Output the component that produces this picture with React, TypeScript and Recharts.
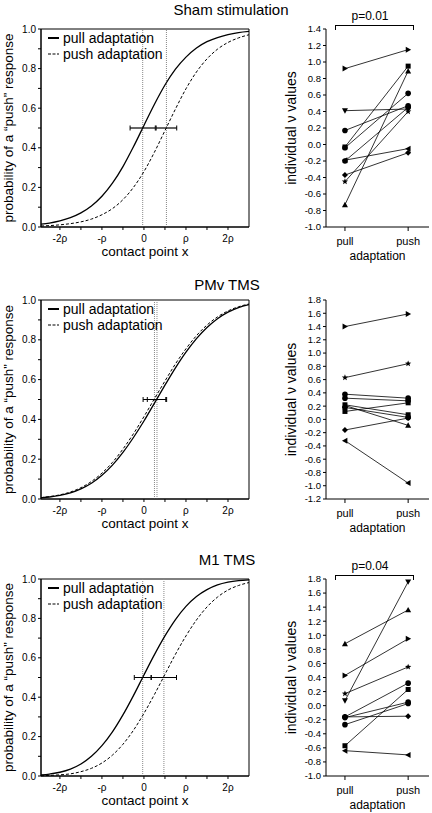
import React from 'react';
import { LineChart, Line, XAxis, YAxis, ReferenceLine, ReferenceArea, Legend, Label } from 'recharts';

const FONT = '"Liberation Sans", Arial, Helvetica, sans-serif';

// contact point x, in units of rho
const xGrid = [-2.45, -2.25, -2, -1.75, -1.5, -1.25, -1, -0.75, -0.5, -0.25, 0, 0.25, 0.5, 0.75, 1, 1.25, 1.5, 1.75, 2, 2.25, 2.5];

// psychometric curves
const shamPullCurve = [0.014, 0.02, 0.031, 0.047, 0.071, 0.106, 0.155, 0.221, 0.305, 0.405, 0.513, 0.62, 0.717, 0.797, 0.858, 0.904, 0.936, 0.957, 0.972, 0.982, 0.988];
const shamPushCurve = [0.005, 0.007, 0.011, 0.017, 0.026, 0.04, 0.062, 0.093, 0.138, 0.2, 0.28, 0.378, 0.487, 0.596, 0.698, 0.783, 0.849, 0.898, 0.932, 0.955, 0.971];
const pmvPullCurve = [0.006, 0.01, 0.018, 0.031, 0.051, 0.079, 0.119, 0.17, 0.234, 0.309, 0.392, 0.482, 0.572, 0.659, 0.738, 0.806, 0.862, 0.906, 0.939, 0.962, 0.977];
const pmvPushCurve = [0.007, 0.012, 0.021, 0.035, 0.057, 0.088, 0.13, 0.184, 0.251, 0.328, 0.414, 0.504, 0.593, 0.679, 0.755, 0.821, 0.874, 0.915, 0.945, 0.966, 0.98];
const m1PullCurve = [0.005, 0.01, 0.019, 0.035, 0.061, 0.1, 0.154, 0.224, 0.31, 0.408, 0.513, 0.616, 0.711, 0.794, 0.861, 0.911, 0.946, 0.97, 0.984, 0.992, 0.996];
const m1PushCurve = [0.001, 0.003, 0.006, 0.011, 0.022, 0.039, 0.066, 0.106, 0.161, 0.232, 0.318, 0.414, 0.516, 0.618, 0.711, 0.792, 0.858, 0.908, 0.944, 0.967, 0.982];

// 50% points [pull, push] and the half width of their error bars
const shamPSE = [-0.03, 0.535];
const shamPSEErr = [0.3, 0.245];
const pmvPSE = [0.31, 0.25];
const pmvPSEErr = [0.23, 0.27];
const m1PSE = [-0.03, 0.475];
const m1PSEErr = [0.2, 0.3];

const xTicks = [-2, -1.5, -1, -0.5, 0, 0.5, 1, 1.5, 2];
const xTickLabels: Record<string, string> = { '-2': '-2ρ', '-1': '-ρ', '0': '0', '1': 'ρ', '2': '2ρ' };
const probTicks = [0, 0.1, 0.2, 0.3, 0.4, 0.5, 0.6, 0.7, 0.8, 0.9, 1];

// individual nu values, pull -> push
const shamPull = [0.92, 0.41, 0.17, -0.03, -0.04, -0.2, -0.19, -0.37, -0.45, -0.73];
const shamPush = [1.15, 0.43, 0.47, 0.95, 0.62, 0.45, -0.05, -0.1, 0.4, 0.89];
const shamMarks = ['right', 'down', 'circle', 'square', 'circle', 'circle', 'left', 'diamond', 'star', 'up'];

const pmvPull = [1.4, 0.63, 0.38, 0.32, 0.22, 0.21, 0.18, 0.12, -0.16, -0.32];
const pmvPush = [1.59, 0.84, 0.32, 0.28, 0.07, -0.09, 0.03, 0.25, 0.02, -0.96];
const pmvMarks = ['right', 'star', 'circle', 'circle', 'square', 'up', 'circle', 'square', 'diamond', 'left'];

const m1Pull = [0.88, 0.43, 0.17, 0.07, -0.16, -0.17, -0.16, -0.27, -0.57, -0.64];
const m1Push = [1.36, 0.95, 0.55, 1.76, 0.32, 0.05, -0.15, 0.03, 0.23, -0.7];
const m1Marks = ['up', 'right', 'star', 'down', 'circle', 'circle', 'diamond', 'circle', 'square', 'left'];

const shamTicks = [-1, -0.8, -0.6, -0.4, -0.2, 0, 0.2, 0.4, 0.6, 0.8, 1, 1.2, 1.4];
const pmvTicks = [-1.2, -1, -0.8, -0.6, -0.4, -0.2, 0, 0.2, 0.4, 0.6, 0.8, 1, 1.2, 1.4, 1.6, 1.8];
const m1Ticks = [-1, -0.8, -0.6, -0.4, -0.2, 0, 0.2, 0.4, 0.6, 0.8, 1, 1.2, 1.4, 1.6, 1.8];
const conditionLabels = ['pull', 'push'];

const Marker = ({ cx, cy, kind }: { cx?: number; cy?: number; kind: string }) => {
  if (cx == null || cy == null) return null;
  const s = 3;
  switch (kind) {
    case 'up':
      return <polygon points={`${cx},${cy - s} ${cx + s},${cy + s * 0.8} ${cx - s},${cy + s * 0.8}`} fill="#000" />;
    case 'down':
      return <polygon points={`${cx},${cy + s} ${cx + s},${cy - s * 0.8} ${cx - s},${cy - s * 0.8}`} fill="#000" />;
    case 'right':
      return <polygon points={`${cx + s},${cy} ${cx - s * 0.8},${cy - s} ${cx - s * 0.8},${cy + s}`} fill="#000" />;
    case 'left':
      return <polygon points={`${cx - s},${cy} ${cx + s * 0.8},${cy - s} ${cx + s * 0.8},${cy + s}`} fill="#000" />;
    case 'square':
      return <rect x={cx - 2.5} y={cy - 2.5} width={5} height={5} fill="#000" />;
    case 'diamond':
      return <polygon points={`${cx},${cy - s} ${cx + s},${cy} ${cx},${cy + s} ${cx - s},${cy}`} fill="#000" />;
    case 'star': {
      const pts: string[] = [];
      for (let k = 0; k < 10; k++) {
        const r = k % 2 === 0 ? 3.3 : 1.4;
        const a = -Math.PI / 2 + (k * Math.PI) / 5;
        pts.push(`${cx + r * Math.cos(a)},${cy + r * Math.sin(a)}`);
      }
      return <polygon points={pts.join(' ')} fill="#000" />;
    }
    default:
      return <circle cx={cx} cy={cy} r={2.8} fill="#000" />;
  }
};

const Cap = (props: any) => {
  const { cx, cy } = props;
  if (cx == null || cy == null) return null;
  return <line x1={cx} x2={cx} y1={cy - 2.5} y2={cy + 2.5} stroke="#000" strokeWidth={1} />;
};

const CurveLegend = () => (
  <div style={{ fontSize: 14, lineHeight: '16px', color: '#000', whiteSpace: 'nowrap' }}>
    <div style={{ display: 'flex', alignItems: 'center' }}>
      <svg width={15} height={8}><line x1={0} x2={11} y1={4} y2={4} stroke="#000" strokeWidth={2} /></svg>
      <span>pull adaptation</span>
    </div>
    <div style={{ display: 'flex', alignItems: 'center' }}>
      <svg width={15} height={8}><line x1={0} x2={11} y1={4} y2={4} stroke="#000" strokeWidth={1.2} strokeDasharray="3 1.5" /></svg>
      <span>push adaptation</span>
    </div>
  </div>
);

interface CurvePanelProps {
  top: number;
  plotHeight: number;
  pull: number[];
  push: number[];
  pse: number[];
  err: number[];
}

const CurvePanel = ({ top, plotHeight, pull, push, pse, err }: CurvePanelProps) => {
  const data = xGrid.map((x, i) => ({ x, pull: pull[i], push: push[i] }));
  const bars = pse.map((c, i) => [
    { x: c - err[i], y: 0.5 },
    { x: c + err[i], y: 0.5 },
  ]);
  return (
    <div style={{ position: 'absolute', left: 0, top }}>
      <LineChart width={280} height={29 + plotHeight + 36} data={data} margin={{ top: 29, right: 31, bottom: 0, left: 0 }}>
        <XAxis
          type="number"
          dataKey="x"
          domain={[-2.45, 2.5]}
          ticks={xTicks}
          interval={0}
          allowDataOverflow
          tickFormatter={(v: number) => xTickLabels[String(v)] ?? ''}
          height={36}
          stroke="#000"
          tickSize={3}
          tickMargin={5}
          tick={{ fontSize: 10, fill: '#000' }}
        >
          <Label value="contact point x" position="insideBottom" offset={7} style={{ fontSize: 13.5, fill: '#000' }} />
        </XAxis>
        <YAxis
          type="number"
          domain={[0, 1]}
          ticks={probTicks}
          interval={0}
          tickFormatter={(v: number) => (Math.round(v * 10) % 2 === 0 ? v.toFixed(1) : '')}
          width={41}
          stroke="#000"
          tickSize={3}
          tickMargin={2}
          tick={{ fontSize: 10, fill: '#000' }}
        >
          <Label
            value={'probability of a \u201cpush\u201d response'}
            angle={-90}
            position="insideLeft"
            offset={8}
            style={{ textAnchor: 'middle', fontSize: 13.5, fill: '#000' }}
          />
        </YAxis>
        <ReferenceArea x1={-2.45} x2={2.5} y1={0} y2={1} fill="none" stroke="#000" strokeWidth={1} />
        {pse.map((c, i) => (
          <ReferenceLine key={`pse-${i}`} x={c} stroke="#888" strokeDasharray="1 1" />
        ))}
        <Line type="monotone" dataKey="pull" stroke="#000" strokeWidth={1.3} dot={false} activeDot={false} isAnimationActive={false} />
        <Line type="monotone" dataKey="push" stroke="#000" strokeWidth={1} strokeDasharray="3 2" dot={false} activeDot={false} isAnimationActive={false} />
        {bars.map((b, i) => (
          <Line key={`bar-${i}`} data={b} dataKey="y" stroke="#000" strokeWidth={1.2} dot={<Cap />} activeDot={false} isAnimationActive={false} />
        ))}
        <Legend
          layout="vertical"
          align="center"
          verticalAlign="middle"
          content={<CurveLegend />}
          wrapperStyle={{ left: 48, top: 30, width: 'auto', height: 'auto' }}
        />
      </LineChart>
    </div>
  );
};

interface IndividualPanelProps {
  top: number;
  plotHeight: number;
  domain: [number, number];
  ticks: number[];
  pull: number[];
  push: number[];
  marks: string[];
}

const IndividualPanel = ({ top, plotHeight, domain, ticks, pull, push, marks }: IndividualPanelProps) => (
  <div style={{ position: 'absolute', left: 280, top }}>
    <LineChart width={152} height={29 + plotHeight + 36} margin={{ top: 29, right: 3, bottom: 0, left: 0 }}>
      <XAxis
        type="number"
        dataKey="x"
        domain={[-0.3, 1.33]}
        ticks={[0, 1]}
        interval={0}
        allowDataOverflow
        tickFormatter={(v: number) => conditionLabels[v] ?? ''}
        height={36}
        stroke="#000"
        tickSize={4}
        tickMargin={6}
        tick={{ fontSize: 11, fill: '#000' }}
      >
        <Label value="adaptation" position="insideBottom" offset={3} style={{ fontSize: 12, fill: '#000' }} />
      </XAxis>
      <YAxis
        type="number"
        domain={domain}
        ticks={ticks}
        interval={0}
        allowDataOverflow
        tickFormatter={(v: number) => v.toFixed(1)}
        width={46}
        stroke="#000"
        tickSize={3}
        tickMargin={2}
        tick={{ fontSize: 9.5, fill: '#000' }}
      >
        <Label
          value={'individual  \u03bd  values'}
          angle={-90}
          position="insideLeft"
          offset={11}
          style={{ textAnchor: 'middle', fontSize: 14, fill: '#000', whiteSpace: 'pre' }}
        />
      </YAxis>
      {pull.map((p, i) => (
        <Line
          key={`subj-${i}`}
          data={[
            { x: 0, v: p },
            { x: 1, v: push[i] },
          ]}
          dataKey="v"
          stroke="#000"
          strokeWidth={0.8}
          dot={(d: any) => <Marker key={`m-${i}-${d.index}`} cx={d.cx} cy={d.cy} kind={marks[i]} />}
          activeDot={false}
          isAnimationActive={false}
        />
      ))}
    </LineChart>
  </div>
);

const Title = ({ text, cx, cy }: { text: string; cx: number; cy: number }) => (
  <div style={{ position: 'absolute', left: cx - 100, top: cy - 9, width: 200, textAlign: 'center', fontSize: 15, lineHeight: '18px' }}>
    {text}
  </div>
);

const Significance = ({ text, top }: { text: string; top: number }) => (
  <>
    <div style={{ position: 'absolute', left: 330, top: top - 16, width: 80, textAlign: 'center', fontSize: 12, lineHeight: '14px' }}>
      {text}
    </div>
    <div style={{ position: 'absolute', left: 335, top, width: 77, height: 4, borderTop: '1px solid #000', borderLeft: '1px solid #000', borderRight: '1px solid #000' }} />
  </>
);

export default function App() {
  return (
    <div style={{ position: 'absolute', left: 0, top: 0, width: 432, height: 813, background: '#fff', fontFamily: FONT, color: '#000', overflow: 'hidden' }}>
      <Title text="Sham stimulation" cx={231} cy={10} />
      <CurvePanel top={0} plotHeight={198} pull={shamPullCurve} push={shamPushCurve} pse={shamPSE} err={shamPSEErr} />
      <IndividualPanel top={0} plotHeight={198} domain={[-1, 1.4]} ticks={shamTicks} pull={shamPull} push={shamPush} marks={shamMarks} />
      <Significance text="p=0.01" top={25} />

      <Title text="PMv TMS" cx={227} cy={285} />
      <CurvePanel top={271} plotHeight={199} pull={pmvPullCurve} push={pmvPushCurve} pse={pmvPSE} err={pmvPSEErr} />
      <IndividualPanel top={271} plotHeight={199} domain={[-1.2, 1.8]} ticks={pmvTicks} pull={pmvPull} push={pmvPush} marks={pmvMarks} />

      <Title text="M1 TMS" cx={227} cy={560} />
      <CurvePanel top={550} plotHeight={197} pull={m1PullCurve} push={m1PushCurve} pse={m1PSE} err={m1PSEErr} />
      <IndividualPanel top={550} plotHeight={197} domain={[-1, 1.8]} ticks={m1Ticks} pull={m1Pull} push={m1Push} marks={m1Marks} />
      <Significance text="p=0.04" top={575} />
    </div>
  );
}
